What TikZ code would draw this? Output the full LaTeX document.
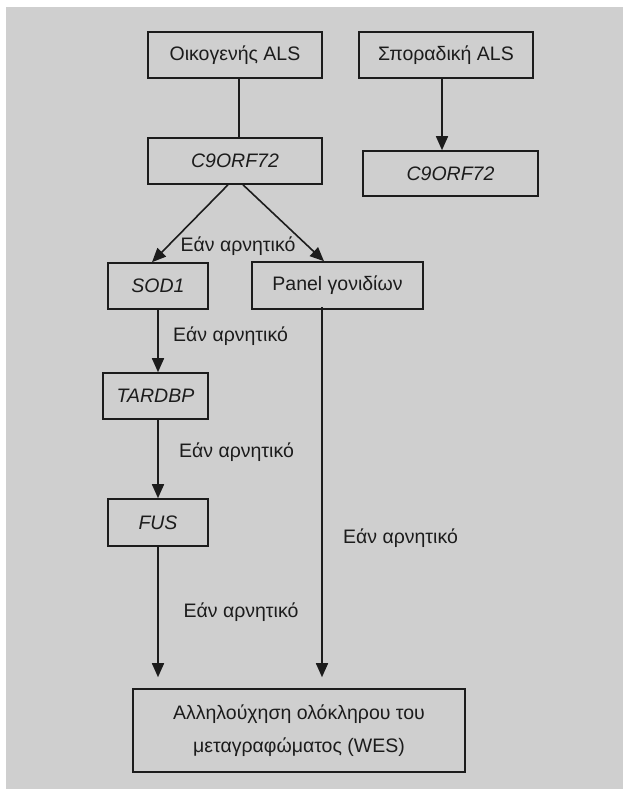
\documentclass[tikz,border=0pt]{standalone}
\usepackage{fontspec}
\setmainfont{Liberation Sans}
\usetikzlibrary{arrows.meta}
\definecolor{bg}{RGB}{207,207,207}
\definecolor{ink}{RGB}{28,28,28}
\begin{document}
\begin{tikzpicture}[x=1pt,y=-1pt,
  box/.style={draw=ink,line width=1.6pt,inner sep=0pt,font=\fontsize{19.5}{23}\selectfont,text=ink,align=center},
  lbl/.style={font=\fontsize{19.5}{23}\selectfont,text=ink,inner sep=0pt},
  conn/.style={draw=ink,line width=1.6pt},
  arr/.style={conn,-{Triangle[width=12pt,length=14pt]}}]
\useasboundingbox (0,0) rectangle (623,789);
\fill[bg] (6,7) rectangle (623,789);
\node[box,minimum width=174pt,minimum height=46pt] (fam) at (235,55) {Οικογενής ALS};
\node[box,minimum width=174pt,minimum height=46pt] (spo) at (446,55) {Σποραδική ALS};
\node[box,minimum width=174pt,minimum height=46pt] (c9l) at (235,161) {\itshape C9ORF72};
\node[box,minimum width=175pt,minimum height=45pt] (c9r) at (450.5,173.5) {\itshape C9ORF72};
\node[box,minimum width=100pt,minimum height=46pt] (sod) at (158,286) {\itshape SOD1};
\node[box,minimum width=171pt,minimum height=47pt] (pan) at (337.5,285.5) {Panel γονιδίων};
\node[box,minimum width=105pt,minimum height=46pt] (tar) at (155.5,396) {\itshape TARDBP};
\node[box,minimum width=100pt,minimum height=47pt] (fus) at (158,522.5) {\itshape FUS};
\node[box,minimum width=332pt,minimum height=83pt,font=\fontsize{19.5}{33}\selectfont] (wes) at (299,730.5) {Αλληλούχηση ολόκληρου του\\μεταγραφώματος (WES)};
\draw[conn] ([xshift=4pt]fam.south) -- ([xshift=4pt]c9l.north);
\draw[arr] ([xshift=-4pt]spo.south) -- ([xshift=-4pt]spo.south |- c9r.north);
\draw[arr] ([xshift=-7pt]c9l.south) -- ([xshift=-6pt]sod.north);
\draw[arr] ([xshift=8pt]c9l.south) -- ([xshift=-13.5pt]pan.north);
\draw[arr] (sod.south) -- (sod.south |- tar.north);
\draw[arr] (fus.north |- tar.south) -- (fus.north);
\draw[arr,shorten >=11pt] (fus.south) -- (fus.south |- wes.north);
\draw[arr,shorten >=11pt] ([xshift=-15.5pt,yshift=3pt]pan.south) -- ([xshift=-15.5pt]pan.south |- wes.north);
\node[lbl] (l1) at (238,246) {Εάν αρνητικό};
\node[lbl] (l2) at (230.5,336) {Εάν αρνητικό};
\node[lbl] (l3) at (236.5,452) {Εάν αρνητικό};
\node[lbl] (l4) at (241,612) {Εάν αρνητικό};
\node[lbl] (l5) at (400.5,538) {Εάν αρνητικό};
\end{tikzpicture}
\end{document}
